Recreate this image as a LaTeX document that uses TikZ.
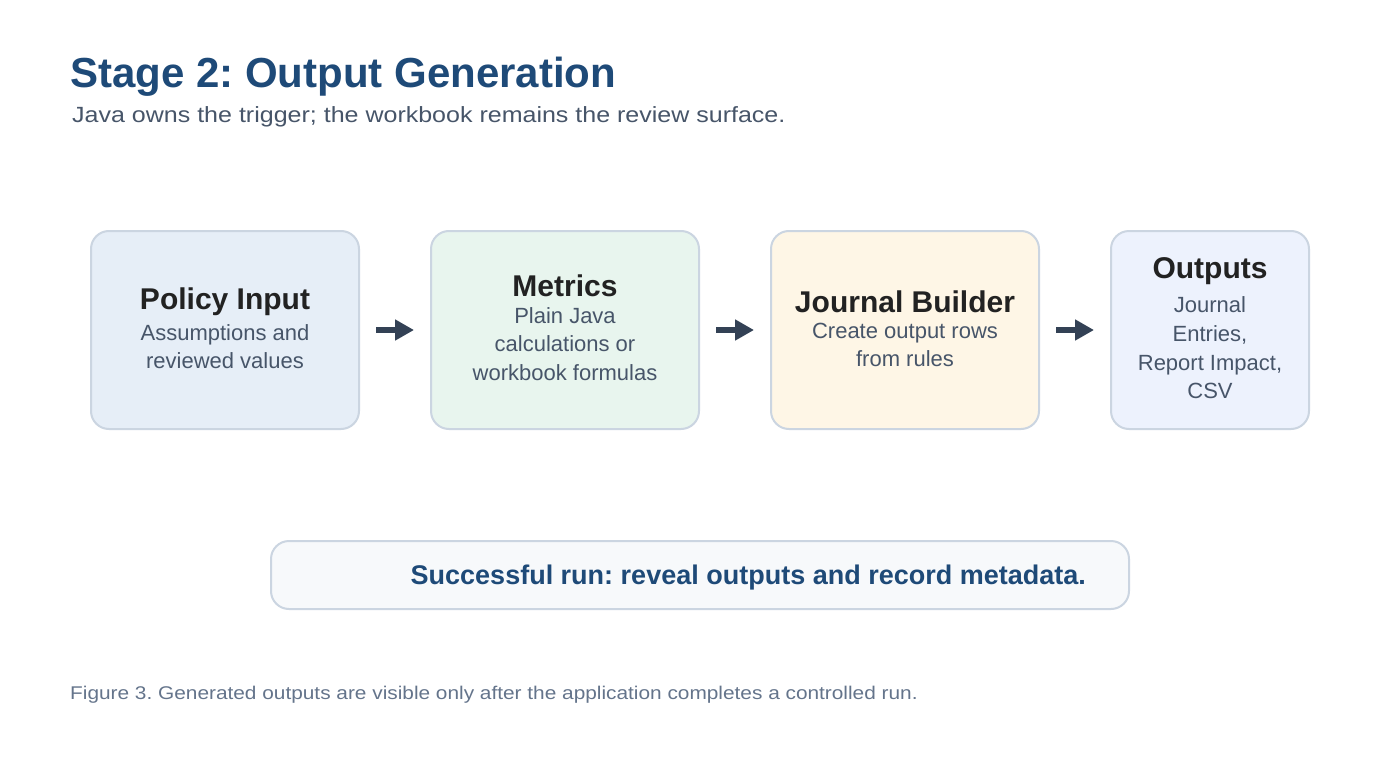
\documentclass[tikz,border=0pt]{standalone}
\usepackage{fontspec}
\setmainfont{Liberation Sans}
\newfontfamily\widefont[FakeStretch=1.137]{Liberation Sans}
\newfontfamily\capfont[FakeStretch=1.132]{Liberation Sans}
\frenchspacing
\usetikzlibrary{arrows.meta}
\definecolor{headcol}{HTML}{1E4A78}
\definecolor{subcol}{HTML}{475569}
\definecolor{ttlcol}{HTML}{222222}
\definecolor{bodycol}{HTML}{475569}
\definecolor{capcol}{HTML}{64748B}
\definecolor{bordercol}{HTML}{CBD5E1}
\definecolor{fillA}{HTML}{E6EEF7}
\definecolor{fillB}{HTML}{E8F5EE}
\definecolor{fillC}{HTML}{FEF6E6}
\definecolor{fillD}{HTML}{EDF2FD}
\definecolor{fillE}{HTML}{F7F9FB}
\definecolor{arrcol}{HTML}{334155}
\begin{document}
\begin{tikzpicture}[x=1pt,y=-1pt,
  card/.style={draw=bordercol, line width=2pt, rounded corners=18pt, minimum height=198pt, inner sep=0pt},
  wide/.style={card, minimum width=268pt},
  narrow/.style={card, minimum width=198pt},
  ttl/.style={font=\fontsize{30}{36}\selectfont\bfseries, text=ttlcol, inner sep=0pt, anchor=base},
  body/.style={font=\fontsize{22}{26}\selectfont, text=bodycol, inner sep=0pt, anchor=base},
  flow/.style={draw=arrcol, line width=6pt, -{Triangle[length=19pt,width=20pt]}, shorten <=16pt, shorten >=16pt}
]
\useasboundingbox (0,0) rectangle (1400,760);
\fill[white] (0,0) rectangle (1400,760);

\node[font=\fontsize{42}{48}\selectfont\bfseries, text=headcol, anchor=base west, inner sep=0pt] (title) at (70,88) {Stage 2: Output Generation};
\node[font=\widefont\fontsize{22}{26}\selectfont, text=subcol, anchor=base west, inner sep=0pt] (subtitle) at (72,122) {Java owns the trigger; the workbook remains the review surface.};

\node[wide, fill=fillA] (b1) at (225,330) {};
\node[wide, fill=fillB] (b2) at (565,330) {};
\node[wide, fill=fillC] (b3) at (905,330) {};
\node[narrow, fill=fillD] (b4) at (1210,330) {};

\draw[flow] (b1.east) -- (b2.west);
\draw[flow] (b2.east) -- (b3.west);
\draw[flow] (b3.east) -- (b4.west);

\node[ttl] (t1) at (225,309) {Policy Input};
\node[body] (t1a) at (225,340.7) {Assumptions and};
\node[body] (t1b) at (225,368.5) {reviewed values};

\node[ttl] (t2) at (565,296) {Metrics};
\node[body] (t2a) at (565,323.3) {Plain Java};
\node[body] (t2b) at (565,351.7) {calculations or};
\node[body] (t2c) at (565,380) {workbook formulas};

\node[ttl] (t3) at (905,312.3) {Journal Builder};
\node[body] (t3a) at (905,338.3) {Create output rows};
\node[body] (t3b) at (905,366.7) {from rules};

\node[ttl] (t4) at (1210,278.3) {Outputs};
\node[body] (t4a) at (1210,312.7) {Journal};
\node[body] (t4b) at (1210,341.7) {Entries,};
\node[body] (t4c) at (1210,370.7) {Report Impact,};
\node[body] (t4d) at (1210,398.3) {CSV};

\node[draw=bordercol, line width=2pt, rounded corners=18pt, fill=fillE, minimum width=858pt, minimum height=68pt, inner sep=0pt] (banner) at (700,575) {};
\node[font=\fontsize{27}{31}\selectfont\bfseries, text=headcol, anchor=base west, inner sep=0pt] (bannertext) at (410.5,584) {Successful run: reveal outputs and record metadata.};

\node[font=\capfont\fontsize{18.4}{22}\selectfont, text=capcol, anchor=base west, inner sep=0pt] (caption) at (70,699) {Figure 3. Generated outputs are visible only after the application completes a controlled run.};
\end{tikzpicture}
\end{document}
